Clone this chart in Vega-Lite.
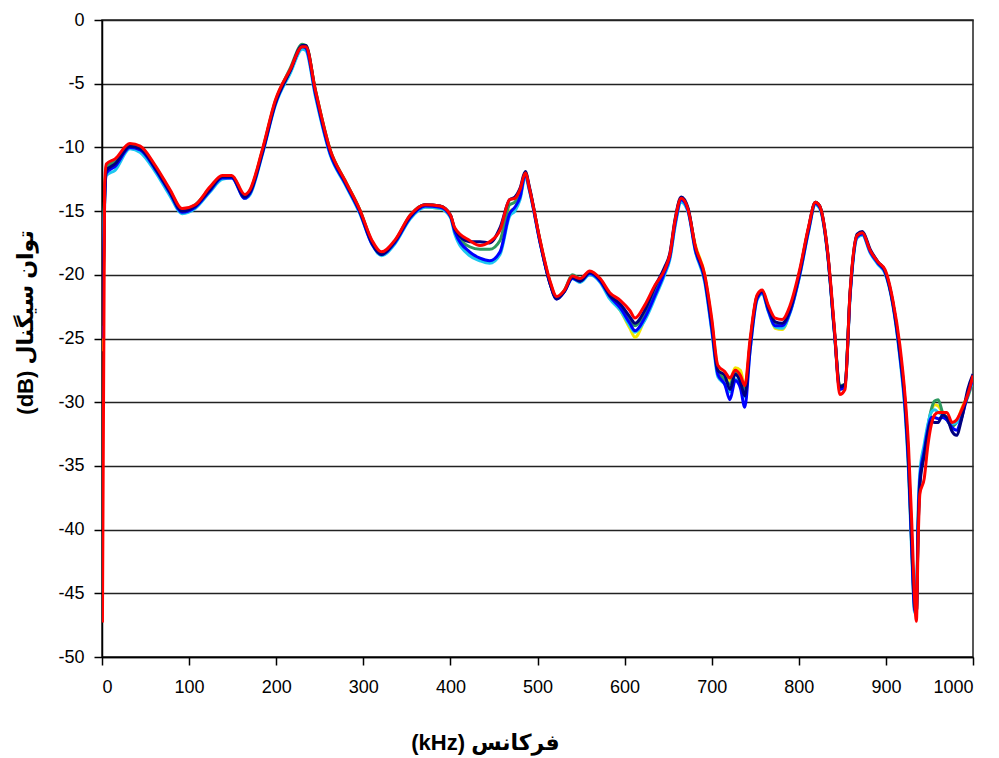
{
  "$schema": "https://vega.github.io/schema/vega-lite/v6.json",
  "autosize": "none",
  "width": 871,
  "height": 637,
  "padding": {"left": 102, "top": 20, "right": 26, "bottom": 101},
  "background": "white",
  "config": {
    "view": {"stroke": "#222", "strokeWidth": 1.5},
    "axis": {"labelFont": "Liberation Sans", "labelFontSize": 18, "labelColor": "#000", "domainColor": "#000", "domainWidth": 1.5, "tickColor": "#000", "tickWidth": 1.5, "tickSize": 8, "titleFont": "Liberation Sans, DejaVu Sans", "titleFontSize": 22, "titleFontWeight": "bold", "titleColor": "#000"}
  },
  "data": {"values": [
    {"f": 0.5, "navy": -24, "blue": -25, "cyan": -23, "yellow": -26, "green": -24, "red": -47.3},
    {"f": 3, "navy": -14, "blue": -14.5, "cyan": -14, "yellow": -14, "green": -14, "red": -13},
    {"f": 5, "navy": -11.8, "blue": -12, "cyan": -12.2, "yellow": -11.6, "green": -11.5, "red": -11.3},
    {"f": 15, "navy": -11.3, "blue": -11.5, "cyan": -11.8, "yellow": -11.2, "green": -11.1, "red": -10.9},
    {"f": 32, "navy": -9.9, "blue": -10, "cyan": -10.1, "yellow": -9.8, "green": -9.8, "red": -9.7},
    {"f": 44, "navy": -10.1, "blue": -10.2, "cyan": -10.4, "yellow": -10, "green": -10, "red": -9.9},
    {"f": 61, "navy": -11.6, "blue": -11.7, "cyan": -11.9, "yellow": -11.5, "green": -11.5, "red": -11.4},
    {"f": 78, "navy": -13.5, "blue": -13.6, "cyan": -13.8, "yellow": -13.4, "green": -13.4, "red": -13.3},
    {"f": 92, "navy": -15.0, "blue": -15.1, "cyan": -15.2, "yellow": -14.9, "green": -14.9, "red": -14.8},
    {"f": 107, "navy": -14.6, "blue": -14.7, "cyan": -14.8, "yellow": -14.6, "green": -14.5, "red": -14.5},
    {"f": 124, "navy": -13.3, "blue": -13.4, "cyan": -13.5, "yellow": -13.2, "green": -13.2, "red": -13.1},
    {"f": 138, "navy": -12.3, "blue": -12.4, "cyan": -12.5, "yellow": -12.3, "green": -12.3, "red": -12.2},
    {"f": 149, "navy": -12.3, "blue": -12.4, "cyan": -12.4, "yellow": -12.3, "green": -12.3, "red": -12.2},
    {"f": 164, "navy": -13.9, "blue": -14.0, "cyan": -14.0, "yellow": -13.8, "green": -13.8, "red": -13.7},
    {"f": 170, "navy": -13.5, "blue": -13.6, "cyan": -13.7, "yellow": -13.4, "green": -13.4, "red": -13.3},
    {"f": 184, "navy": -10.4, "blue": -10.5, "cyan": -10.6, "yellow": -10.3, "green": -10.3, "red": -10.2},
    {"f": 199, "navy": -6.5, "blue": -6.6, "cyan": -6.7, "yellow": -6.4, "green": -6.4, "red": -6.3},
    {"f": 216, "navy": -4.0, "blue": -4.0, "cyan": -4.2, "yellow": -3.9, "green": -3.8, "red": -3.9},
    {"f": 230, "navy": -2.0, "blue": -2.1, "cyan": -2.3, "yellow": -2.0, "green": -1.9, "red": -2.1},
    {"f": 234, "navy": -2.0, "blue": -2.2, "cyan": -2.4, "yellow": -2.0, "green": -2.0, "red": -2.1},
    {"f": 245, "navy": -5.6, "blue": -5.8, "cyan": -6.0, "yellow": -5.5, "green": -5.5, "red": -5.5},
    {"f": 262, "navy": -10.3, "blue": -10.5, "cyan": -10.6, "yellow": -10.2, "green": -10.2, "red": -10.2},
    {"f": 279, "navy": -12.7, "blue": -12.8, "cyan": -12.9, "yellow": -12.6, "green": -12.6, "red": -12.6},
    {"f": 296, "navy": -15.0, "blue": -15.1, "cyan": -15.2, "yellow": -14.9, "green": -14.9, "red": -14.9},
    {"f": 310, "navy": -17.5, "blue": -17.6, "cyan": -17.6, "yellow": -17.4, "green": -17.4, "red": -17.3},
    {"f": 321, "navy": -18.4, "blue": -18.4, "cyan": -18.5, "yellow": -18.3, "green": -18.3, "red": -18.2},
    {"f": 336, "navy": -17.4, "blue": -17.5, "cyan": -17.6, "yellow": -17.4, "green": -17.4, "red": -17.3},
    {"f": 354, "navy": -15.4, "blue": -15.5, "cyan": -15.6, "yellow": -15.4, "green": -15.3, "red": -15.3},
    {"f": 371, "navy": -14.5, "blue": -14.6, "cyan": -14.7, "yellow": -14.7, "green": -14.5, "red": -14.5},
    {"f": 388, "navy": -14.6, "blue": -14.7, "cyan": -14.8, "yellow": -14.8, "green": -14.6, "red": -14.6},
    {"f": 400, "navy": -15.3, "blue": -15.4, "cyan": -15.5, "yellow": -15.4, "green": -15.3, "red": -15.3},
    {"f": 405, "navy": -16.4, "blue": -16.6, "cyan": -16.8, "yellow": -16.6, "green": -16.5, "red": -16.3},
    {"f": 422, "navy": -17.4, "blue": -18.2, "cyan": -18.5, "yellow": -18.4, "green": -17.8, "red": -17.3},
    {"f": 434, "navy": -17.4, "blue": -18.7, "cyan": -18.9, "yellow": -18.8, "green": -18.0, "red": -17.7},
    {"f": 445, "navy": -17.5, "blue": -18.9, "cyan": -19.1, "yellow": -19.0, "green": -18.0, "red": -17.4},
    {"f": 457, "navy": -16.3, "blue": -18.2, "cyan": -18.4, "yellow": -18.3, "green": -17.3, "red": -16.5},
    {"f": 468, "navy": -14.1, "blue": -15.2, "cyan": -15.4, "yellow": -15.0, "green": -14.5, "red": -14.1},
    {"f": 474, "navy": -13.9, "blue": -14.7, "cyan": -15.0, "yellow": -14.8, "green": -14.3, "red": -14.0},
    {"f": 480, "navy": -13.2, "blue": -13.9, "cyan": -14.1, "yellow": -13.9, "green": -13.6, "red": -13.3},
    {"f": 486, "navy": -11.9, "blue": -12.1, "cyan": -12.3, "yellow": -12.2, "green": -12.0, "red": -12.0},
    {"f": 491, "navy": -13.2, "blue": -13.4, "cyan": -13.5, "yellow": -13.4, "green": -13.3, "red": -13.3},
    {"f": 503, "navy": -17.4, "blue": -17.5, "cyan": -17.5, "yellow": -17.3, "green": -17.4, "red": -17.3},
    {"f": 514, "navy": -20.6, "blue": -20.6, "cyan": -20.6, "yellow": -20.5, "green": -20.5, "red": -20.4},
    {"f": 522, "navy": -21.9, "blue": -21.9, "cyan": -21.8, "yellow": -21.8, "green": -21.8, "red": -21.7},
    {"f": 531, "navy": -21.3, "blue": -21.3, "cyan": -21.3, "yellow": -21.2, "green": -21.2, "red": -21.2},
    {"f": 540, "navy": -20.2, "blue": -20.3, "cyan": -20.3, "yellow": -20.2, "green": -20.0, "red": -20.1},
    {"f": 549, "navy": -20.5, "blue": -20.5, "cyan": -20.6, "yellow": -20.4, "green": -20.3, "red": -20.3},
    {"f": 560, "navy": -19.8, "blue": -19.9, "cyan": -20.0, "yellow": -19.9, "green": -19.8, "red": -19.7},
    {"f": 572, "navy": -20.4, "blue": -20.5, "cyan": -20.6, "yellow": -20.5, "green": -20.4, "red": -20.3},
    {"f": 583, "navy": -21.6, "blue": -21.7, "cyan": -21.9, "yellow": -21.8, "green": -21.6, "red": -21.4},
    {"f": 595, "navy": -22.3, "blue": -22.6, "cyan": -22.8, "yellow": -22.8, "green": -22.5, "red": -22.0},
    {"f": 606, "navy": -23.3, "blue": -23.8, "cyan": -24.0, "yellow": -24.2, "green": -23.5, "red": -22.8},
    {"f": 612, "navy": -23.8, "blue": -24.4, "cyan": -24.5, "yellow": -24.9, "green": -24.0, "red": -23.4},
    {"f": 623, "navy": -22.8, "blue": -23.4, "cyan": -23.6, "yellow": -23.5, "green": -23.0, "red": -22.4},
    {"f": 635, "navy": -20.9, "blue": -21.6, "cyan": -21.8, "yellow": -21.6, "green": -21.2, "red": -20.8},
    {"f": 646, "navy": -19.4, "blue": -19.8, "cyan": -20.0, "yellow": -19.8, "green": -19.6, "red": -19.6},
    {"f": 652, "navy": -18.3, "blue": -18.6, "cyan": -18.8, "yellow": -18.6, "green": -18.5, "red": -18.4},
    {"f": 658, "navy": -15.6, "blue": -16.0, "cyan": -16.2, "yellow": -16.0, "green": -15.8, "red": -15.7},
    {"f": 665, "navy": -13.9, "blue": -14.1, "cyan": -14.3, "yellow": -14.1, "green": -14.0, "red": -14.0},
    {"f": 673, "navy": -14.8, "blue": -15.0, "cyan": -15.1, "yellow": -15.0, "green": -14.9, "red": -14.9},
    {"f": 681, "navy": -17.8, "blue": -18.0, "cyan": -18.1, "yellow": -17.6, "green": -17.8, "red": -17.7},
    {"f": 692, "navy": -20.2, "blue": -20.4, "cyan": -20.6, "yellow": -20.0, "green": -20.2, "red": -20.0},
    {"f": 700, "navy": -23.8, "blue": -24.2, "cyan": -24.4, "yellow": -23.6, "green": -23.9, "red": -23.4},
    {"f": 707, "navy": -27.5, "blue": -27.8, "cyan": -28.0, "yellow": -27.3, "green": -27.6, "red": -27.1},
    {"f": 715, "navy": -27.9, "blue": -28.6, "cyan": -28.6, "yellow": -28.0, "green": -28.2, "red": -27.6},
    {"f": 721, "navy": -29.0, "blue": -29.8, "cyan": -29.2, "yellow": -28.3, "green": -28.6, "red": -28.1},
    {"f": 727, "navy": -27.8, "blue": -28.3, "cyan": -28.2, "yellow": -27.3, "green": -27.7, "red": -27.5},
    {"f": 733, "navy": -28.4, "blue": -28.9, "cyan": -28.7, "yellow": -27.5, "green": -28.1, "red": -27.9},
    {"f": 738, "navy": -29.5, "blue": -30.4, "cyan": -29.6, "yellow": -28.8, "green": -29.2, "red": -28.7},
    {"f": 744, "navy": -25.5, "blue": -26.0, "cyan": -26.0, "yellow": -25.4, "green": -25.5, "red": -25.1},
    {"f": 752, "navy": -21.7, "blue": -21.9, "cyan": -22.0, "yellow": -21.7, "green": -21.8, "red": -21.6},
    {"f": 758, "navy": -21.3, "blue": -21.4, "cyan": -21.5, "yellow": -21.3, "green": -21.3, "red": -21.2},
    {"f": 765, "navy": -22.6, "blue": -22.8, "cyan": -22.9, "yellow": -22.7, "green": -22.6, "red": -22.4},
    {"f": 773, "navy": -23.7, "blue": -24.0, "cyan": -24.1, "yellow": -24.2, "green": -23.8, "red": -23.4},
    {"f": 781, "navy": -23.8, "blue": -24.0, "cyan": -24.2, "yellow": -24.3, "green": -23.9, "red": -23.5},
    {"f": 790, "navy": -22.7, "blue": -22.9, "cyan": -23.0, "yellow": -22.9, "green": -22.7, "red": -22.4},
    {"f": 801, "navy": -19.8, "blue": -20.0, "cyan": -20.1, "yellow": -20.0, "green": -19.8, "red": -19.6},
    {"f": 811, "navy": -16.4, "blue": -16.6, "cyan": -16.7, "yellow": -16.6, "green": -16.4, "red": -16.3},
    {"f": 819, "navy": -14.3, "blue": -14.4, "cyan": -14.5, "yellow": -14.4, "green": -14.3, "red": -14.3},
    {"f": 824, "navy": -14.6, "blue": -14.7, "cyan": -14.8, "yellow": -14.7, "green": -14.6, "red": -14.6},
    {"f": 833, "navy": -18.2, "blue": -18.3, "cyan": -18.4, "yellow": -18.3, "green": -18.2, "red": -18.1},
    {"f": 841, "navy": -24.5, "blue": -24.6, "cyan": -24.7, "yellow": -24.6, "green": -24.5, "red": -24.3},
    {"f": 847, "navy": -28.8, "blue": -29.0, "cyan": -29.0, "yellow": -28.9, "green": -28.7, "red": -29.4},
    {"f": 853, "navy": -28.6, "blue": -28.8, "cyan": -28.8, "yellow": -28.7, "green": -28.6, "red": -29.0},
    {"f": 859, "navy": -21.3, "blue": -21.5, "cyan": -21.6, "yellow": -21.4, "green": -21.3, "red": -21.2},
    {"f": 867, "navy": -16.8, "blue": -17.0, "cyan": -17.1, "yellow": -17.0, "green": -16.9, "red": -16.9},
    {"f": 873, "navy": -16.6, "blue": -16.8, "cyan": -16.9, "yellow": -16.8, "green": -16.7, "red": -16.7},
    {"f": 882, "navy": -18.0, "blue": -18.2, "cyan": -18.3, "yellow": -18.2, "green": -18.1, "red": -18.1},
    {"f": 891, "navy": -19.0, "blue": -19.1, "cyan": -19.2, "yellow": -19.1, "green": -19.0, "red": -19.0},
    {"f": 899, "navy": -19.7, "blue": -19.8, "cyan": -19.9, "yellow": -19.8, "green": -19.7, "red": -19.6},
    {"f": 908, "navy": -22.2, "blue": -22.3, "cyan": -22.4, "yellow": -22.3, "green": -22.2, "red": -22.0},
    {"f": 916, "navy": -26.0, "blue": -26.3, "cyan": -26.5, "yellow": -26.3, "green": -26.1, "red": -25.5},
    {"f": 922, "navy": -30.0, "blue": -30.4, "cyan": -30.8, "yellow": -30.4, "green": -30.2, "red": -29.5},
    {"f": 926, "navy": -34.5, "blue": -35.0, "cyan": -35.5, "yellow": -35.0, "green": -34.8, "red": -33.5},
    {"f": 930, "navy": -41.5, "blue": -42.0, "cyan": -42.5, "yellow": -42.0, "green": -41.8, "red": -40.0},
    {"f": 933, "navy": -46.0, "blue": -46.3, "cyan": -46.5, "yellow": -46.3, "green": -46.2, "red": -45.5},
    {"f": 935, "navy": -46.5, "blue": -46.5, "cyan": -46.0, "yellow": -46.5, "green": -46.5, "red": -47.2},
    {"f": 937, "navy": -40.0, "blue": -39.5, "cyan": -38.5, "yellow": -39.5, "green": -40.0, "red": -41.0},
    {"f": 939, "navy": -36.5, "blue": -36.0, "cyan": -35.5, "yellow": -36.0, "green": -36.2, "red": -37.2},
    {"f": 944, "navy": -34.2, "blue": -33.8, "cyan": -33.3, "yellow": -33.8, "green": -34.0, "red": -36.0},
    {"f": 948, "navy": -32.5, "blue": -32.2, "cyan": -31.8, "yellow": -32.0, "green": -32.0, "red": -33.5},
    {"f": 952, "navy": -31.5, "blue": -31.2, "cyan": -30.8, "yellow": -30.8, "green": -30.6, "red": -31.8},
    {"f": 956, "navy": -31.6, "blue": -31.2, "cyan": -30.6, "yellow": -30.2, "green": -29.9, "red": -31.0},
    {"f": 960, "navy": -31.6, "blue": -31.3, "cyan": -30.8, "yellow": -30.3, "green": -29.8, "red": -30.8},
    {"f": 965, "navy": -31.0, "blue": -31.2, "cyan": -31.0, "yellow": -30.8, "green": -30.8, "red": -30.8},
    {"f": 970, "navy": -31.2, "blue": -31.4, "cyan": -31.3, "yellow": -31.2, "green": -31.4, "red": -30.8},
    {"f": 976, "navy": -32.3, "blue": -32.0, "cyan": -31.7, "yellow": -31.6, "green": -31.9, "red": -31.6},
    {"f": 981, "navy": -32.6, "blue": -32.2, "cyan": -31.6, "yellow": -31.5, "green": -31.6, "red": -31.4},
    {"f": 987, "navy": -31.3, "blue": -31.2, "cyan": -30.8, "yellow": -30.5, "green": -30.8, "red": -30.6},
    {"f": 994, "navy": -29.0, "blue": -29.4, "cyan": -29.4, "yellow": -29.4, "green": -29.6, "red": -29.4},
    {"f": 1000, "navy": -27.8, "blue": -28.2, "cyan": -28.3, "yellow": -28.3, "green": -28.3, "red": -27.9}
  ]},
  "transform": [{"fold": ["yellow", "green", "cyan", "blue", "navy", "red"], "as": ["series", "db"]}],
  "encoding": {
    "x": {"field": "f", "type": "quantitative", "scale": {"domain": [0, 1000], "nice": false},
      "axis": {"values": [0,100,200,300,400,500,600,700,800,900,1000], "labelExpr": "'' + datum.value", "grid": false, "labelPadding": 13, "title": "(kHz)  فرکانس", "titleX": 383, "titleY": 85, "titleAlign": "center", "titleBaseline": "middle"}},
    "y": {"field": "db", "type": "quantitative", "scale": {"domain": [-50, 0], "nice": false},
      "axis": {"values": [0,-5,-10,-15,-20,-25,-30,-35,-40,-45,-50], "labelExpr": "'' + datum.value", "grid": true, "gridColor": "#222", "gridWidth": 1.5, "gridOpacity": 1, "labelPadding": 10, "title": "(dB)  توان سیگنال", "titleX": -77, "titleY": 302, "titleAlign": "center", "titleBaseline": "middle", "titleAngle": -90}},
    "color": {"field": "series", "type": "nominal", "legend": null,
      "scale": {"domain": ["yellow", "green", "cyan", "blue", "navy", "red"], "range": ["#F2E600", "#2E9960", "#1EC8F0", "#0000FF", "#000080", "#FF0000"]}}
  },
  "layer": [
    {"transform": [{"filter": "datum.series !== 'red'"}], "mark": {"type": "line", "strokeWidth": 3, "interpolate": "monotone", "clip": true}},
    {"transform": [{"filter": "datum.series === 'red'"}], "mark": {"type": "line", "strokeWidth": 3, "interpolate": "monotone", "clip": true}}
  ]
}
